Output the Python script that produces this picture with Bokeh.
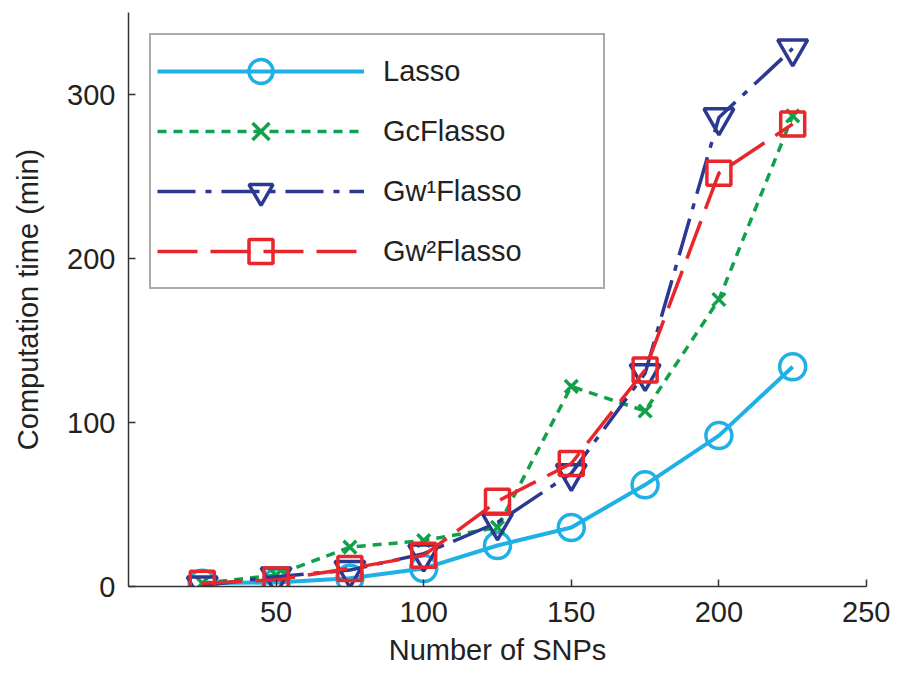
from bokeh.plotting import figure
from bokeh.models import Range1d, FixedTicker, Legend, LegendItem
from bokeh.embed import file_html
from bokeh.resources import INLINE

# ---- data ----
snps = [25, 50, 75, 100, 125, 150, 175, 200, 225]
lasso = [2, 2.5, 5, 11, 25, 36, 62, 92, 134]
gcflasso = [2, 7, 24, 28, 36, 122, 107, 175, 287]
gw1flasso = [0.5, 6, 10, 20, 39, 69, 130, 286, 328]
gw2flasso = [2, 4, 11, 19, 52, 75, 132, 252, 282]
labels = ["Lasso", "GcFlasso", "Gw\u00b9Flasso", "Gw\u00b2Flasso"]
x_ticks = [50, 100, 150, 200, 250]
y_ticks = [0, 100, 200, 300]

FONT = "Liberation Sans"
FS = "29px"
TXT = "#222222"

p = figure(width=890, height=673, x_range=Range1d(0, 250), y_range=Range1d(0, 350),
           output_backend="svg", toolbar_location=None,
           min_border_left=128, min_border_right=24, min_border_top=12, min_border_bottom=87)
p.outline_line_color = None
p.xgrid.grid_line_color = None
p.ygrid.grid_line_color = None
p.background_fill_color = "white"
p.border_fill_color = "white"

for ax in (p.xaxis[0], p.yaxis[0]):
    ax.axis_line_color = "#333333"
    ax.axis_line_width = 1.5
    ax.major_tick_line_color = "#333333"
    ax.major_tick_line_width = 1.5
    ax.major_tick_in = 7
    ax.major_tick_out = 0
    ax.minor_tick_line_color = None
    ax.major_label_text_font = FONT
    ax.major_label_text_font_size = FS
    ax.major_label_text_color = TXT
    ax.axis_label_text_font = FONT
    ax.axis_label_text_font_size = FS
    ax.axis_label_text_font_style = "normal"
    ax.axis_label_text_color = TXT

p.xaxis.ticker = FixedTicker(ticks=x_ticks)
p.yaxis.ticker = FixedTicker(ticks=y_ticks)
p.xaxis.axis_label = "Number of SNPs"
p.yaxis.axis_label = "Computation time (min)"
p.xaxis.major_label_standoff = 15
p.xaxis.axis_label_standoff = 9
p.yaxis.major_label_standoff = 13
p.yaxis.axis_label_standoff = 20

series = [
    (lasso, "#1FB0E6", 4, "solid", "circle", 26),
    (gcflasso, "#12A14B", 3.5, "9 7", "x", 18),
    (gw1flasso, "#2B3990", 3.5, "38 10 6 10", "inverted_triangle", 30),
    (gw2flasso, "#E8262B", 3.5, "40 13", "square", 24),
]

items = []
for (vals, col, lw, dash, mk, sz), lab in zip(series, labels):
    ln = p.line(snps, vals, line_color=col, line_width=lw, line_dash=dash)
    sc = p.scatter(snps, vals, marker=mk, size=sz, line_color=col, line_width=3.5,
                   fill_alpha=0)
    items.append(LegendItem(label=lab, renderers=[ln, sc]))

legend = Legend(items=items, location="top_left", margin=21,
                padding=6, spacing=0, glyph_height=60, label_height=60,
                glyph_width=207, label_standoff=19, label_width=214,
                label_text_font=FONT, label_text_font_size=FS, label_text_color=TXT,
                border_line_color="#555555", border_line_width=2,
                background_fill_color="white", background_fill_alpha=1.0)
p.add_layout(legend)

open("out.html", "w").write(file_html(p, INLINE))
